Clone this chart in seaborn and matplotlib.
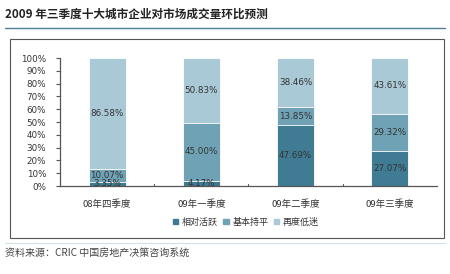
import matplotlib
matplotlib.use("Agg")
import matplotlib.pyplot as plt
import seaborn as sns
import pandas as pd
import numpy as np
from matplotlib.patches import Rectangle
from matplotlib.lines import Line2D

categories = ["08年四季度", "09年一季度", "09年二季度", "09年三季度"]
series_names = ["相对活跃", "基本持平", "再度低迷"]
active = [3.35, 4.17, 47.69, 27.07]
flat = [10.07, 45.00, 13.85, 29.32]
low = [86.58, 50.83, 38.46, 43.61]
yticks = [0, 10, 20, 30, 40, 50, 60, 70, 80, 90, 100]
title = "2009 年三季度十大城市企业对市场成交量环比预测"
source = "资料来源：CRIC 中国房地产决策咨询系统"

colors = ["#3f7c94", "#70a2b6", "#a9c9d6"]

sns.set_theme(style="white")
plt.rcParams['font.family'] = ['Noto Sans CJK SC', 'DejaVu Sans']

fig = plt.figure(figsize=(4.5, 2.74), dpi=100)
fig.patch.set_facecolor("white")

# outer frame and decorations
fig.add_artist(Line2D([5/450, 445/450], [1-27.5/274, 1-27.5/274], color="#4f7f96", lw=1.0))
fig.add_artist(Rectangle((9.5/450, 1-238/274), (444-9.5)/450, (238-39)/274,
                         fill=False, edgecolor="#555555", lw=0.8))
fig.add_artist(Line2D([5/450, 445/450], [1-243/274, 1-243/274], color="#cfdfe6", lw=0.8))
fig.text(5/450, 1-14/274, title, fontsize=8.4, fontweight="bold", color="#222222",
         va="center", ha="left")
fig.text(5/450, 1-253/274, source, fontsize=7.2, color="#444444", va="center", ha="left")

ax = fig.add_axes([60/450, 1-186/274, (437-60)/450, (186-58)/274])

df = pd.DataFrame({"cat": categories, "active": active, "flat": flat, "low": low})
df["c1"] = df["active"]
df["c2"] = df["active"] + df["flat"]
df["c3"] = df["c2"] + df["low"]

for col, c in zip(["c3", "c2", "c1"], colors[::-1]):
    sns.barplot(data=df, x="cat", y=col, color=c, width=0.39, ax=ax,
                edgecolor="white", linewidth=0.6, saturation=1, order=categories)

# labels
for i in range(len(categories)):
    bottoms = [0, active[i], active[i] + flat[i]]
    for b, v in zip(bottoms, [active[i], flat[i], low[i]]):
        ax.text(i, b + v / 2, f"{v:.2f}%", ha="center", va="center",
                fontsize=6.3, color="#333333", family=["DejaVu Sans"])

ax.set_ylim(0, 100)
ax.set_xlim(-0.5, 3.5)
ax.set_yticks(yticks)
ax.set_yticklabels([f"{t}%" for t in yticks], fontsize=6.3, color="#333333",
                   family=["DejaVu Sans"])
ax.set_xticks(range(len(categories)))
ax.set_xticklabels(categories, fontsize=6.8, color="#333333")
ax.set_xlabel("")
ax.set_ylabel("")
ax.tick_params(axis="y", which="major", left=True, length=3, width=0.8, color="#555555", pad=7)
ax.tick_params(axis="x", which="major", bottom=False, pad=4)
for xm in [0.5, 1.5, 2.5]:
    ax.plot([xm, xm], [0, 1.6], color="#555555", lw=0.8, clip_on=False)
sns.despine(ax=ax, top=True, right=True)
for s in ["left", "bottom"]:
    ax.spines[s].set_color("#555555")
    ax.spines[s].set_linewidth(0.9)
ax.grid(False)

handles = [Rectangle((0, 0), 1, 1, color=c) for c in colors]
fig.legend(handles, series_names, loc="center", bbox_to_anchor=(246/450, 1-222/274),
           ncol=3, frameon=False, fontsize=6.5, handlelength=0.6, handleheight=0.6,
           handletextpad=0.4, columnspacing=0.6, labelcolor="#333333")

fig.savefig("out.png", dpi=100)
